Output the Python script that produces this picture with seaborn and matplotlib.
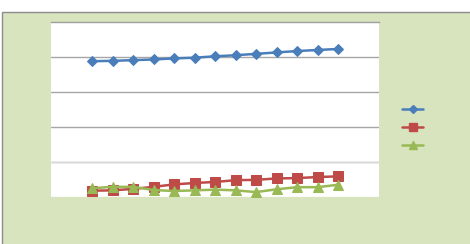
import matplotlib
matplotlib.use("Agg")
import matplotlib.pyplot as plt
import seaborn as sns
import pandas as pd
from matplotlib.patches import Rectangle
from matplotlib.lines import Line2D

sns.set_style("white")

periods = list(range(13))
series_a = [3.88, 3.89, 3.91, 3.93, 3.96, 3.98, 4.02, 4.05, 4.09, 4.13, 4.17, 4.20, 4.23]
series_b = [0.18, 0.19, 0.23, 0.29, 0.36, 0.40, 0.43, 0.48, 0.49, 0.53, 0.54, 0.57, 0.59]
series_c = [0.25, 0.29, 0.29, 0.20, 0.17, 0.19, 0.21, 0.19, 0.14, 0.22, 0.28, 0.28, 0.35]
series_names = ["A", "B", "C"]
legend_labels = ["", "", ""]

colors = {"A": "#4A7EBB", "B": "#BE4B48", "C": "#98B954"}
markers = {"A": "D", "B": "s", "C": "^"}
msizes = {"A": 5, "B": 6.5, "C": 6.5}

df = pd.DataFrame({
    "x": periods * 3,
    "y": series_a + series_b + series_c,
    "series": [series_names[0]] * 13 + [series_names[1]] * 13 + [series_names[2]] * 13,
})

fig = plt.figure(figsize=(4.70, 2.44), dpi=100)
fig.patch.set_facecolor("white")
W, H = 470, 244
fig.patches.append(Rectangle((1.5 / W, -0.1), 1.2, (H - 11.5) / H + 0.1, transform=fig.transFigure,
                             facecolor="#D7E4BD", edgecolor="#8C8C8C", linewidth=1.0, zorder=-5))

ax = fig.add_axes([51 / W, 47 / H, 328 / W, 175 / H])
ax.set_zorder(2)
ax.set_facecolor("white")

for name in series_names:
    sub = df[df["series"] == name]
    sns.lineplot(data=sub, x="x", y="y", ax=ax, color=colors[name], marker=markers[name],
                 markersize=msizes[name], markeredgecolor=colors[name], linewidth=1.8,
                 legend=False, zorder=3)

ax.set_xlim(-2, 14)
ax.set_ylim(0, 5)
ax.set_yticks([1, 2, 3, 4])
ax.set_xticks([])
ax.tick_params(left=False, bottom=False, labelleft=False, labelbottom=False)
ax.set_xlabel("")
ax.set_ylabel("")
ax.grid(axis="y", color="#A6A6A6", linewidth=1.0)
ax.grid(axis="x", visible=False)
for s in ["left", "right", "bottom"]:
    ax.spines[s].set_visible(False)
ax.spines["top"].set_visible(True)
ax.spines["top"].set_color("#A0A0A0")
ax.spines["top"].set_linewidth(1.0)
ax.axhline(1, color="#D9D9D9", linewidth=1.0, zorder=1)
ax.axhline(0, color="#E6EDD8", linewidth=1.0, zorder=1)

handles = [Line2D([0], [0], color=colors[n], marker=markers[n], markersize=msizes[n] - 0.5,
                  markeredgecolor=colors[n], linewidth=1.8) for n in series_names]
leg = fig.legend(handles, legend_labels, loc="center", bbox_to_anchor=(414 / W, 1 - 127.7 / H),
                 frameon=False, handlelength=1.5, fontsize=10, labelspacing=0.3,
                 handletextpad=0.2, borderpad=0)
leg.set_zorder(3)

fig.savefig("out.png", dpi=100, facecolor=fig.get_facecolor())
